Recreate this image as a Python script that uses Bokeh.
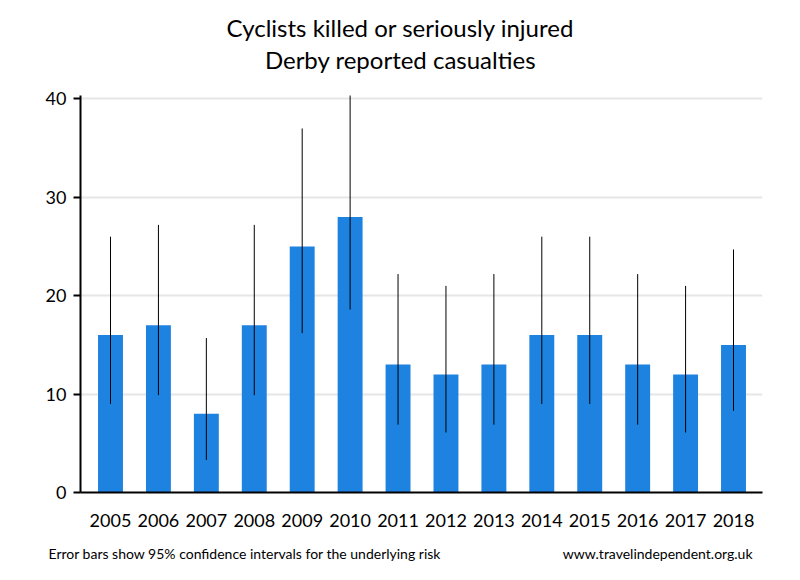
from bokeh.plotting import figure
from bokeh.models import Range1d, Label, FixedTicker
from bokeh.layouts import column
from bokeh.embed import file_html
from bokeh.resources import INLINE

years = ["2005", "2006", "2007", "2008", "2009", "2010", "2011", "2012",
         "2013", "2014", "2015", "2016", "2017", "2018"]
casualties = [16, 17, 8, 17, 25, 28, 13, 12, 13, 16, 16, 13, 12, 15]
ci_upper = [26.0, 27.2, 15.7, 27.2, 37.0, 40.4, 22.2, 21.0, 22.2, 26.0, 26.0, 22.2, 21.0, 24.7]
ci_lower = [9.0, 9.9, 3.3, 9.9, 16.2, 18.6, 6.9, 6.1, 6.9, 9.0, 9.0, 6.9, 6.1, 8.3]
y_ticks = [0, 10, 20, 30, 40]

FONT = "Lato"
idx = list(range(len(years)))

W = 800
HEAD_H, MAIN_H, FOOT_H = 80, 460, 40


def text_panel(height):
    f = figure(width=W, height=height, output_backend="svg", toolbar_location=None,
               x_range=Range1d(0, W), y_range=Range1d(0, height),
               x_axis_location=None, y_axis_location=None,
               min_border=0, min_border_left=0, min_border_right=0,
               min_border_top=0, min_border_bottom=0)
    f.frame_align = False
    f.outline_line_color = None
    f.xgrid.grid_line_color = None
    f.ygrid.grid_line_color = None
    f.border_fill_color = "white"
    return f


def add_text(f, px, py, text, size, align):
    # px, py: pixel position measured from the panel's top-left corner
    f.add_layout(Label(x=px, y=f.height - py, text=text,
                       text_font=FONT, text_font_size=size, text_align=align,
                       text_baseline="middle", text_color="black"))


header = text_panel(HEAD_H)
add_text(header, 400, 27, "Cyclists killed or seriously injured", "24px", "center")
add_text(header, 400, 59, "Derby reported casualties", "24px", "center")

p = figure(width=W, height=MAIN_H, output_backend="svg", toolbar_location=None,
           x_range=Range1d(-0.626, 13.605), y_range=Range1d(0, 40.35),
           min_border_left=80, min_border_right=38, min_border_top=15,
           min_border_bottom=48)
p.frame_align = False
p.outline_line_color = None
p.background_fill_color = "white"
p.border_fill_color = "white"

p.vbar(x=idx, top=casualties, width=0.52, fill_color="#1e82e0", line_color=None)
p.segment(x0=idx, y0=ci_lower, x1=idx, y1=ci_upper, line_color="black", line_width=1)

p.xgrid.grid_line_color = None
p.ygrid.grid_line_color = "#e6e6e6"
p.ygrid.grid_line_width = 2
p.ygrid.ticker = FixedTicker(ticks=y_ticks)

p.xaxis.ticker = FixedTicker(ticks=idx)
p.xaxis.major_label_overrides = {i: y for i, y in enumerate(years)}
p.xaxis.major_tick_line_color = None
p.xaxis.major_tick_out = 0
p.xaxis.minor_tick_line_color = None
p.xaxis.major_label_standoff = 21

p.yaxis.ticker = FixedTicker(ticks=y_ticks)
p.yaxis.major_tick_out = 7
p.yaxis.major_tick_in = 0
p.yaxis.minor_tick_line_color = None
p.yaxis.major_tick_line_width = 2
p.yaxis.major_label_standoff = 7

for ax in (p.xaxis, p.yaxis):
    ax.axis_line_width = 2
    ax.axis_line_color = "black"
    ax.major_label_text_font = FONT
    ax.major_label_text_font_size = "18px"
    ax.major_label_text_color = "black"

footer = text_panel(FOOT_H)
add_text(footer, 48, 13, "Error bars show 95% confidence intervals for the underlying risk", "14px", "left")
add_text(footer, 752, 13, "www.travelindependent.org.uk", "14px", "right")

layout = column(header, p, footer, spacing=0)
open("out.html", "w").write(file_html(layout, INLINE))
